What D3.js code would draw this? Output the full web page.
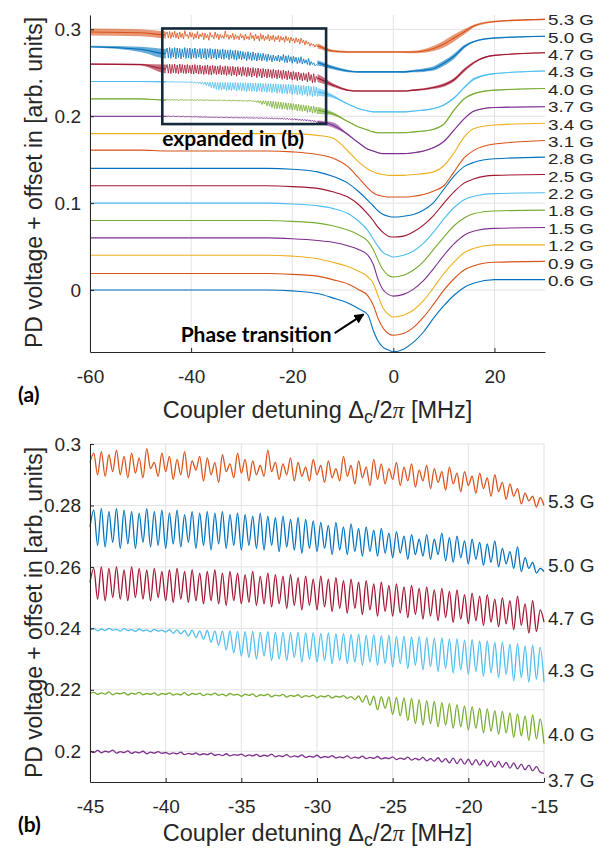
<!DOCTYPE html>
<html>
<head>
<meta charset="utf-8">
<script src="https://cdn.jsdelivr.net/npm/d3@7"></script>
<style>
body { margin: 0; background: #fff; }
svg { display: block; font-family: "Liberation Sans", Arial, sans-serif; }
</style>
</head>
<body>
<svg id="chart" width="599" height="852"></svg>
<script>
// ---- data -------------------------------------------------------------
// field labels, bottom trace first, and the vertical offset added to each
var fields  = ["0.6 G", "0.9 G", "1.2 G", "1.5 G", "1.8 G", "2.2 G", "2.5 G", "2.8 G",
               "3.1 G", "3.4 G", "3.7 G", "4.0 G", "4.3 G", "4.7 G", "5.0 G", "5.3 G"];
var offsets = [0, 0.02, 0.04, 0.06, 0.08, 0.10, 0.12, 0.14, 0.16, 0.18, 0.20, 0.22, 0.24, 0.26, 0.28, 0.30];

// panel (a): detuning grid [MHz] and signal relative to offset
var XA = [-60, -50, -45, -35, -25, -20, -15, -12, -9, -7, -5, -4, -3, -2, -1, 0, 2, 4, 6, 8, 10, 12, 14, 16, 20, 30];

var dip06 = [0, 0, 0, 0, 0, -0.001, -0.004, -0.009, -0.015, -0.021, -0.029, -0.046, -0.059, -0.066, -0.069, -0.071, -0.068, -0.060, -0.048, -0.032, -0.018, -0.006, 0.003, 0.008, 0.012, 0.012];
var dip09 = [-0.001, -0.001, -0.001, -0.001, -0.001, -0.002, -0.004, -0.008, -0.013, -0.019, -0.027, -0.037, -0.053, -0.064, -0.070, -0.072, -0.070, -0.063, -0.051, -0.036, -0.020, -0.007, 0.003, 0.008, 0.012, 0.013];
var dip12 = [0, 0, 0, 0, 0, -0.001, -0.004, -0.008, -0.013, -0.018, -0.025, -0.032, -0.047, -0.061, -0.068, -0.071, -0.069, -0.063, -0.052, -0.037, -0.021, -0.008, 0.003, 0.008, 0.012, 0.012];
var dip15 = [0, 0, 0, 0, 0, -0.001, -0.003, -0.005, -0.009, -0.013, -0.020, -0.030, -0.048, -0.060, -0.065, -0.067, -0.065, -0.059, -0.049, -0.035, -0.020, -0.007, 0.003, 0.008, 0.011, 0.012];
var dip18 = [0, 0, 0, 0, 0, -0.001, -0.003, -0.006, -0.011, -0.016, -0.024, -0.033, -0.046, -0.057, -0.063, -0.065, -0.063, -0.057, -0.047, -0.033, -0.019, -0.006, 0.003, 0.008, 0.011, 0.012];
var dip22 = [0, 0, 0, 0, 0, -0.001, -0.003, -0.006, -0.012, -0.020, -0.032, -0.041, -0.050, -0.057, -0.060, -0.062, -0.060, -0.055, -0.046, -0.033, -0.018, -0.005, 0.004, 0.008, 0.011, 0.012];
var dip25 = [0, 0, 0, 0, 0, -0.001, -0.003, -0.007, -0.013, -0.021, -0.033, -0.040, -0.048, -0.054, -0.058, -0.059, -0.058, -0.053, -0.045, -0.034, -0.020, -0.007, 0.003, 0.008, 0.012, 0.013];
var dip28 = [0, 0, 0, 0, 0, -0.001, -0.004, -0.009, -0.017, -0.026, -0.037, -0.043, -0.049, -0.053, -0.055, -0.056, -0.055, -0.053, -0.048, -0.039, -0.024, -0.009, 0.002, 0.007, 0.011, 0.013];
var dip31 = [0.001, 0.001, 0, 0, 0, -0.001, -0.004, -0.008, -0.018, -0.030, -0.043, -0.048, -0.051, -0.052, -0.053, -0.053, -0.053, -0.052, -0.050, -0.046, -0.040, -0.024, -0.008, 0.001, 0.008, 0.012];
var dip34 = [0, 0, 0, 0, 0, 0, -0.002, -0.005, -0.020, -0.032, -0.041, -0.044, -0.046, -0.047, -0.048, -0.048, -0.048, -0.047, -0.046, -0.044, -0.037, -0.022, -0.004, 0.006, 0.010, 0.012];
var dip37 = [0, 0, 0, -0.0015, -0.0025, -0.0035, -0.0065, -0.010, -0.021, -0.030, -0.038, -0.040, -0.042, -0.043, -0.043, -0.043, -0.043, -0.042, -0.040, -0.036, -0.029, -0.016, -0.003, 0.006, 0.010, 0.011];
var dip40 = [0, 0, -0.0015, -0.0015, -0.0035, -0.0085, -0.013, -0.017, -0.026, -0.032, -0.036, -0.038, -0.039, -0.039, -0.039, -0.039, -0.039, -0.038, -0.037, -0.035, -0.029, -0.013, 0.000, 0.006, 0.010, 0.012];
var dip43 = [0, 0, -0.0005, -0.0055, -0.008, -0.010, -0.012, -0.017, -0.026, -0.031, -0.034, -0.035, -0.035, -0.035, -0.035, -0.035, -0.035, -0.034, -0.033, -0.031, -0.027, -0.019, -0.007, 0.003, 0.009, 0.012];
var dip47 = [0, -0.0005, -0.0055, -0.0065, -0.009, -0.011, -0.016, -0.024, -0.030, -0.031, -0.031, -0.031, -0.031, -0.031, -0.031, -0.031, -0.031, -0.030, -0.029, -0.027, -0.024, -0.018, -0.007, 0.002, 0.010, 0.013];
var dip50 = [0, -0.003, -0.008, -0.009, -0.012, -0.015, -0.0185, -0.024, -0.028, -0.029, -0.029, -0.029, -0.029, -0.029, -0.029, -0.029, -0.029, -0.028, -0.027, -0.025, -0.019, -0.011, 0.000, 0.006, 0.010, 0.012];
var dip53 = [-0.003, -0.004, -0.0065, -0.0075, -0.0105, -0.013, -0.019, -0.025, -0.026, -0.026, -0.026, -0.026, -0.026, -0.026, -0.026, -0.026, -0.026, -0.026, -0.025, -0.022, -0.017, -0.010, -0.003, 0.004, 0.009, 0.0115];

// half width of the noise band seen in (a), same grid
var band37 = [0.0004, 0.0004, 0.0004, 0.0004, 0.0005, 0.001, 0.0015, 0.003, 0.0008, 0.0005, 0.0005, 0.0005, 0.0005, 0.0005, 0.0005, 0.0005, 0.0005, 0.0005, 0.0005, 0.0006, 0.0008, 0.0008, 0.0006, 0.0005, 0.0005, 0.0004];
var band40 = [0.0005, 0.0005, 0.0005, 0.0005, 0.002, 0.004, 0.004, 0.002, 0.0006, 0.0005, 0.0005, 0.0005, 0.0005, 0.0005, 0.0005, 0.0005, 0.0005, 0.0005, 0.0005, 0.0005, 0.0008, 0.001, 0.001, 0.0006, 0.0005, 0.0005];
var band43 = [0.0005, 0.0005, 0.0005, 0.004, 0.004, 0.0045, 0.0045, 0.002, 0.0006, 0.0005, 0.0005, 0.0005, 0.0005, 0.0005, 0.0005, 0.0005, 0.0005, 0.0005, 0.0005, 0.0006, 0.0008, 0.001, 0.001, 0.0015, 0.0006, 0.0005];
var band47 = [0.0008, 0.001, 0.005, 0.005, 0.005, 0.005, 0.0045, 0.002, 0.001, 0.0008, 0.0008, 0.0008, 0.0008, 0.0008, 0.0008, 0.0008, 0.0008, 0.001, 0.0012, 0.0015, 0.002, 0.002, 0.002, 0.0012, 0.0008, 0.0006];
var band50 = [0.001, 0.003, 0.0055, 0.0055, 0.0045, 0.004, 0.003, 0.002, 0.0015, 0.001, 0.001, 0.001, 0.001, 0.001, 0.001, 0.001, 0.0012, 0.0015, 0.002, 0.0025, 0.003, 0.003, 0.002, 0.001, 0.0008, 0.0006];
var band53 = [0.004, 0.004, 0.004, 0.004, 0.0035, 0.0035, 0.003, 0.0015, 0.0012, 0.001, 0.001, 0.001, 0.001, 0.001, 0.001, 0.001, 0.0012, 0.0015, 0.002, 0.003, 0.004, 0.004, 0.003, 0.0015, 0.001, 0.0008];

// panel (b): -45 .. -15 MHz every 0.25 MHz, signal in units of 1e-3 (offset included)
var zig53 = [294, 297, 290, 297.5, 289.5, 296.5, 291, 298, 290, 296,
  289, 297, 290.5, 295.5, 289, 298.5, 292, 294, 289.5, 297,
  291, 296, 288.5, 295, 290, 297.5, 289, 294.5, 291.5, 296,
  288, 295.5, 290, 294, 287.5, 296.5, 291, 293.5, 289, 297,
  290.5, 295, 288, 294.5, 290, 293, 289.5, 298, 291, 294,
  288.5, 293.5, 290, 295.5, 288, 294, 289.5, 292.5, 288, 295,
  290, 293, 287.5, 294.5, 289, 292, 288, 296, 289.5, 293,
  287, 294.5, 289, 292.5, 286.5, 295, 288.5, 293.5, 287, 292,
  288.5, 294, 286.5, 292.5, 288, 293.5, 286, 291.5, 288, 293,
  285.5, 292, 287.5, 291, 285, 292.5, 287, 290.5, 284.5, 291,
  286.5, 289.5, 284, 290.5, 285.5, 289, 283, 290, 284.5, 287.5,
  282, 287, 283, 285.5, 280.5, 284, 281.5, 283, 279.5, 282.5, 280];
var zig50 = [273, 278.5, 267, 279, 266.5, 278, 268, 279, 266, 278.5,
  267.5, 278, 266, 277.5, 268, 279, 266.5, 278, 267, 278.5,
  266, 277.5, 267.5, 278.5, 266.5, 277, 268, 278, 266, 277.5,
  267, 278, 265.5, 277.5, 267.5, 278, 266, 277, 267, 277.5,
  265.5, 277, 267, 276.5, 266, 277.5, 265.5, 276.5, 267, 276,
  265, 276.5, 266.5, 275.5, 265.5, 276, 264.5, 275.5, 266, 275,
  265, 274.5, 266, 273.5, 264, 274.5, 265.5, 273, 264, 274,
  265, 272.5, 263.5, 273, 265, 272, 263.5, 272.5, 264.5, 271,
  263, 271.5, 264.5, 270, 262.5, 270.5, 264, 269, 263.5, 270.5,
  262.5, 269, 264, 271, 262, 269.5, 261.5, 270, 263, 268.5,
  261, 269, 262.5, 268, 260.5, 267.5, 261.5, 268.5, 260, 266,
  261, 265, 259.5, 266.5, 258.5, 263, 259.5, 261.5, 258, 259.5, 258.5];
var zig47 = [255, 259.5, 249.5, 260, 249, 259.5, 250, 260, 249.5, 259,
  249, 260, 250, 259.5, 249.5, 259, 249, 259.5, 250, 258.5,
  249, 259, 248.5, 259.5, 249.5, 258.5, 248.5, 259, 249, 258,
  248, 258.5, 249, 259, 248, 258, 247.5, 258.5, 249, 258,
  248, 257.5, 248.5, 258.5, 247.5, 257, 248, 258, 247, 257.5,
  248, 257, 246.5, 257.5, 247.5, 256.5, 246, 257, 247.5, 256,
  246, 257, 247, 256, 245.5, 256.5, 246.5, 255.5, 245, 256,
  246.5, 255, 244.5, 255.5, 246, 254.5, 244, 255, 245.5, 254,
  244, 254.5, 245, 253.5, 243.5, 254, 244.5, 253, 243, 253.5,
  244, 252.5, 242.5, 253, 243.5, 252, 242, 252.5, 243, 251,
  241.5, 251.5, 242.5, 250.5, 241, 251, 242, 249.5, 240.5, 250,
  241.5, 249, 239.5, 250.5, 241, 248, 238.5, 249, 239, 246, 242];
var zig43 = [239.5, 240, 239.2, 239.8, 239.3, 240, 239.4, 239.7, 239.1, 239.9,
  239.3, 239.6, 239, 239.8, 239.2, 239.5, 238.9, 239.7, 239.1, 239.4,
  238.8, 239.6, 238.4, 239.5, 238.2, 239.3, 237.5, 239.4, 237, 239.2,
  236.5, 239.3, 235.5, 239.2, 234.5, 239.1, 233, 239.2, 232, 239,
  231, 238.9, 230.5, 239, 230, 238.8, 231, 238.9, 229.5, 238.7,
  230, 238.8, 229.5, 238.6, 230.5, 238.7, 229, 238.5, 230, 238.6,
  229, 238.4, 229.5, 238.5, 228.5, 238.2, 229.5, 238.3, 228.5, 238,
  229, 238.1, 228, 237.8, 229, 237.9, 228, 237.6, 228.5, 237.7,
  227.5, 237.4, 228.5, 237.5, 227, 237.2, 228, 237.3, 226.5, 237,
  227.5, 236.8, 226, 236.9, 227, 236.5, 225.5, 236.6, 226.5, 236.2,
  225, 236.3, 226, 235.8, 224.5, 235.9, 225.5, 235.4, 224, 235.5,
  225, 234.8, 223, 235, 224, 234.2, 222.5, 234.5, 223.5, 233.8, 222.5];
var zig40 = [218.8, 219.2, 218.5, 219, 218.6, 219.3, 218.4, 218.9, 218.7, 219.1,
  218.3, 218.9, 218.6, 219.2, 218.4, 218.8, 218.5, 219, 218.2, 218.8,
  218.5, 219, 218.3, 218.7, 218.4, 219.1, 218.2, 218.8, 218.5, 218.9,
  218.1, 218.7, 218.4, 218.9, 218.2, 218.6, 218, 218.8, 218.3, 218.5,
  217.9, 218.6, 218.2, 218.7, 217.8, 218.4, 218.1, 218.6, 217.7, 218.3,
  218, 218.5, 217.6, 218.2, 217.9, 218.4, 217.5, 218.1, 217.8, 218.3,
  217.4, 218, 217.7, 218.2, 217.3, 217.9, 217.6, 218.1, 217.2, 217.8,
  216.8, 218, 216, 218.1, 215, 217.9, 213.5, 217.8, 214, 217.7,
  212, 217.5, 211.5, 217.4, 210, 217.2, 209, 216.8, 208.5, 216.5,
  209, 216.2, 208, 215.8, 208.5, 215.5, 207.5, 215.2, 208, 214.8,
  207, 214.5, 207.5, 214, 206, 213.8, 206.5, 213.2, 205.5, 213,
  206, 212.5, 204.5, 212.2, 205, 211.5, 203.5, 211.8, 204, 210.5, 202.5];
var zig37 = [200.2, 199.6, 200.3, 199.5, 200, 199.7, 200.4, 199.4, 199.9, 199.6,
  200.1, 199.3, 199.8, 199.5, 200, 199.2, 199.7, 199.4, 199.9, 199.3,
  199.6, 199.1, 199.5, 199.2, 199.7, 198.9, 199.3, 199, 199.5, 198.8,
  199.2, 198.9, 199.4, 198.7, 199, 198.6, 199.2, 198.5, 198.9, 198.7,
  199.1, 198.4, 198.8, 198.5, 199, 198.3, 198.7, 198.4, 199.1, 198.2,
  198.6, 198.3, 198.9, 198.1, 198.5, 198.2, 198.8, 198, 198.4, 198.1,
  198.7, 197.9, 198.3, 198, 198.6, 197.8, 198.2, 197.9, 198.5, 197.7,
  198.1, 197.8, 198.4, 197.6, 198, 197.7, 198.3, 197.5, 197.9, 197.6,
  198.2, 197.3, 197.8, 197.4, 198.1, 197.1, 197.7, 197.2, 198, 196.9,
  197.6, 196.8, 197.9, 196.5, 197.6, 196.2, 197.8, 196, 197.5, 195.8,
  197.4, 195.6, 197.3, 195.5, 197.1, 195.2, 196.8, 194.9, 196.7, 194.8,
  196.4, 194.5, 196.2, 194.3, 195.8, 194, 195.5, 193.6, 195, 193.2, 192.8];

var startB = -45, stepB = 0.25;
var fieldsB = ["5.3 G", "5.0 G", "4.7 G", "4.3 G", "4.0 G", "3.7 G"];
var labelYB = [0.2812, 0.2606, 0.2431, 0.2262, 0.2053, 0.1906];

var xTicksA = [-60, -40, -20, 0, 20];
var yTicksA = [0, 0.1, 0.2, 0.3];
var xTicksB = [-45, -40, -35, -30, -25, -20, -15];
var yTicksB = [0.2, 0.22, 0.24, 0.26, 0.28, 0.3];

// ---- setup ------------------------------------------------------------
var dips  = [dip06, dip09, dip12, dip15, dip18, dip22, dip25, dip28, dip31, dip34, dip37, dip40, dip43, dip47, dip50, dip53];
var bands = {10: band37, 11: band40, 12: band43, 13: band47, 14: band50, 15: band53};
var zigs  = {10: zig37, 11: zig40, 12: zig43, 13: zig47, 14: zig50, 15: zig53};
var zigOrder = [15, 14, 13, 12, 11, 10];

var matlab = ["#0072BD", "#D95319", "#EDB120", "#7E2F8E", "#77AC30", "#4DBEEE", "#A2142F"];
var colorOf = function (k) { return matlab[k % 7]; };
var ink = "#262626", gridCol = "#e2e2e2";
var bold = "Lato, 'Open Sans', sans-serif";

var svg = d3.select("#chart");

var xA = d3.scaleLinear().domain([-60, 30]).range([90, 545]);
var yA = d3.scaleLinear().domain([-0.0713, 0.3165]).range([352, 15]);
var xB = d3.scaleLinear().domain([-45, -15]).range([90, 544]);
var yB = d3.scaleLinear().domain([0.19, 0.3]).range([782, 444]);

function grid(g, x, y, xt, yt) {
    g.append("g").selectAll("line").data(xt).join("line")
        .attr("x1", d => x(d)).attr("x2", d => x(d))
        .attr("y1", y.range()[0]).attr("y2", y.range()[1])
        .attr("stroke", gridCol).attr("stroke-width", 1);
    g.append("g").selectAll("line").data(yt).join("line")
        .attr("x1", x.range()[0]).attr("x2", x.range()[1])
        .attr("y1", d => y(d)).attr("y2", d => y(d))
        .attr("stroke", gridCol).attr("stroke-width", 1);
}

function axes(g, x, y, xt, yt) {
    var bx = g.append("g").attr("transform", "translate(0," + y.range()[0] + ")")
        .call(d3.axisBottom(x).tickValues(xt).tickSizeInner(-4).tickSizeOuter(0)
              .tickPadding(17.5).tickFormat(d => String(d)));
    var ly = g.append("g").attr("transform", "translate(" + x.range()[0] + ",0)")
        .call(d3.axisLeft(y).tickValues(yt).tickSizeInner(-4).tickSizeOuter(0)
              .tickPadding(9).tickFormat(d => String(d)));
    [bx, ly].forEach(function (a) {
        a.attr("font-family", null).attr("font-size", null);
        a.select(".domain").attr("stroke", ink);
        a.selectAll(".tick line").attr("stroke", ink);
        a.selectAll(".tick text").attr("fill", ink).style("font-size", "19px");
    });
}

function xLabel(g, cx, base) {
    var t = g.append("text").attr("x", cx).attr("y", base).attr("text-anchor", "middle")
        .attr("fill", ink).style("font-size", "23.5px");
    t.append("tspan").text("Coupler detuning \u0394");
    t.append("tspan").text("c").attr("dy", 5).style("font-size", "18px");
    t.append("tspan").text("/2").attr("dy", -5);
    t.append("tspan").text("\u03c0").style("font-family", "'Liberation Serif', serif").style("font-style", "italic");
    t.append("tspan").text(" [MHz]");
}

function yLabel(g, base, cy) {
    g.append("text").attr("transform", "translate(" + base + "," + cy + ") rotate(-90)")
        .attr("text-anchor", "middle")
        .attr("fill", ink).style("font-size", "23px")
        .attr("textLength", 331).attr("lengthAdjust", "spacingAndGlyphs")
        .text("PD voltage + offset in [arb. units]");
}

function tag(g, x, y, s) {
    g.append("text").attr("x", x).attr("y", y).attr("dominant-baseline", "central")
        .style("font-family", bold).style("font-weight", 700).style("font-size", "21px").text(s);
}

// ---- panel (a) --------------------------------------------------------
var gA = svg.append("g");
grid(gA, xA, yA, xTicksA, yTicksA);

// inside the box the zoomed data of (b) is drawn instead of the smooth mean
var defs = svg.append("defs");
var clipOut = defs.append("clipPath").attr("id", "outsideBox");
clipOut.append("rect").attr("x", xA(-60)).attr("y", 0).attr("width", xA(-45) - xA(-60)).attr("height", 400);
clipOut.append("rect").attr("x", xA(-15)).attr("y", 0).attr("width", xA(30) - xA(-15)).attr("height", 400);

var lineA = d3.line().x((d, i) => xA(XA[i])).y(d => yA(d)).curve(d3.curveMonotoneX);
var areaA = d3.area().x((d, i) => xA(XA[i])).y0(d => yA(d[0])).y1(d => yA(d[1])).curve(d3.curveMonotoneX);
var zigLineA = d3.line().x((d, i) => xA(startB + i * stepB)).y(d => yA(d / 1000));

dips.forEach(function (dip, k) {
    var off = offsets[k], col = colorOf(k);
    var tr = gA.append("g");
    var smooth = tr.append("g");
    if (zigs[k]) smooth.attr("clip-path", "url(#outsideBox)");
    if (bands[k]) {
        var bd = bands[k];
        smooth.append("path")
            .attr("d", areaA(dip.map((v, i) => [off + v - bd[i], off + v + bd[i]])))
            .attr("fill", col).attr("fill-opacity", 0.6);
    }
    smooth.append("path").attr("d", lineA(dip.map(v => off + v)))
        .attr("fill", "none").attr("stroke", col).attr("stroke-width", 1.1);
    if (zigs[k]) {
        tr.append("path").attr("d", zigLineA(zigs[k]))
            .attr("fill", "none").attr("stroke", col).attr("stroke-width", 0.8)
            .attr("stroke-linejoin", "round");
    }
});

axes(gA, xA, yA, xTicksA, yTicksA);

gA.append("g").selectAll("text").data(fields).join("text")
    .attr("x", 548).attr("y", (d, k) => yA(offsets[k] + 0.011))
    .attr("dominant-baseline", "central").attr("fill", ink)
    .style("font-size", "15.5px")
    .attr("textLength", 46).attr("lengthAdjust", "spacingAndGlyphs")
    .text(d => d);

// zoom box and notes
gA.append("rect")
    .attr("x", xA(-45.7)).attr("y", yA(0.301))
    .attr("width", xA(-13.3) - xA(-45.7)).attr("height", yA(0.191) - yA(0.301))
    .attr("fill", "none").attr("stroke", "#14293a").attr("stroke-width", 2.6);

gA.append("text").attr("x", xA(-45.7)).attr("y", yA(0.175))
    .attr("dominant-baseline", "central").attr("fill", "#000")
    .style("font-family", bold).style("font-weight", 700).style("font-size", "21px")
    .text("expanded in (b)");
gA.append("text").attr("x", xA(-12.2)).attr("y", yA(-0.0505))
    .attr("text-anchor", "end").attr("dominant-baseline", "central").attr("fill", "#000")
    .style("font-family", bold).style("font-weight", 700).style("font-size", "21px")
    .text("Phase transition");

defs.append("marker").attr("id", "head").attr("viewBox", "0 0 10 10")
    .attr("refX", 9).attr("refY", 5).attr("markerWidth", 5).attr("markerHeight", 5)
    .attr("orient", "auto").append("path").attr("d", "M0,0L10,5L0,10z").attr("fill", "#000");
gA.append("line")
    .attr("x1", xA(-11.6)).attr("y1", yA(-0.0495))
    .attr("x2", xA(-5.9)).attr("y2", yA(-0.028))
    .attr("stroke", "#000").attr("stroke-width", 2).attr("marker-end", "url(#head)");

xLabel(gA, 317.5, 418);
yLabel(gA, 42, 182.5);
tag(gA, 18, 393, "(a)");

// ---- panel (b) --------------------------------------------------------
var gB = svg.append("g");
grid(gB, xB, yB, xTicksB, yTicksB);

var zigLineB = d3.line().x((d, i) => xB(startB + i * stepB)).y(d => yB(d / 1000))
    .curve(d3.curveMonotoneX);
zigOrder.forEach(function (k) {
    gB.append("path").attr("d", zigLineB(zigs[k]))
        .attr("fill", "none").attr("stroke", colorOf(k)).attr("stroke-width", 1.3)
        .attr("stroke-linejoin", "round");
});

axes(gB, xB, yB, xTicksB, yTicksB);

gB.append("g").selectAll("text").data(fieldsB).join("text")
    .attr("x", 548).attr("y", (d, i) => yB(labelYB[i]))
    .attr("dominant-baseline", "central").attr("fill", ink)
    .style("font-size", "19px").text(d => d);

xLabel(gB, 317.5, 841);
yLabel(gB, 42, 612.5);
tag(gB, 18, 823, "(b)");
</script>
</body>
</html>
